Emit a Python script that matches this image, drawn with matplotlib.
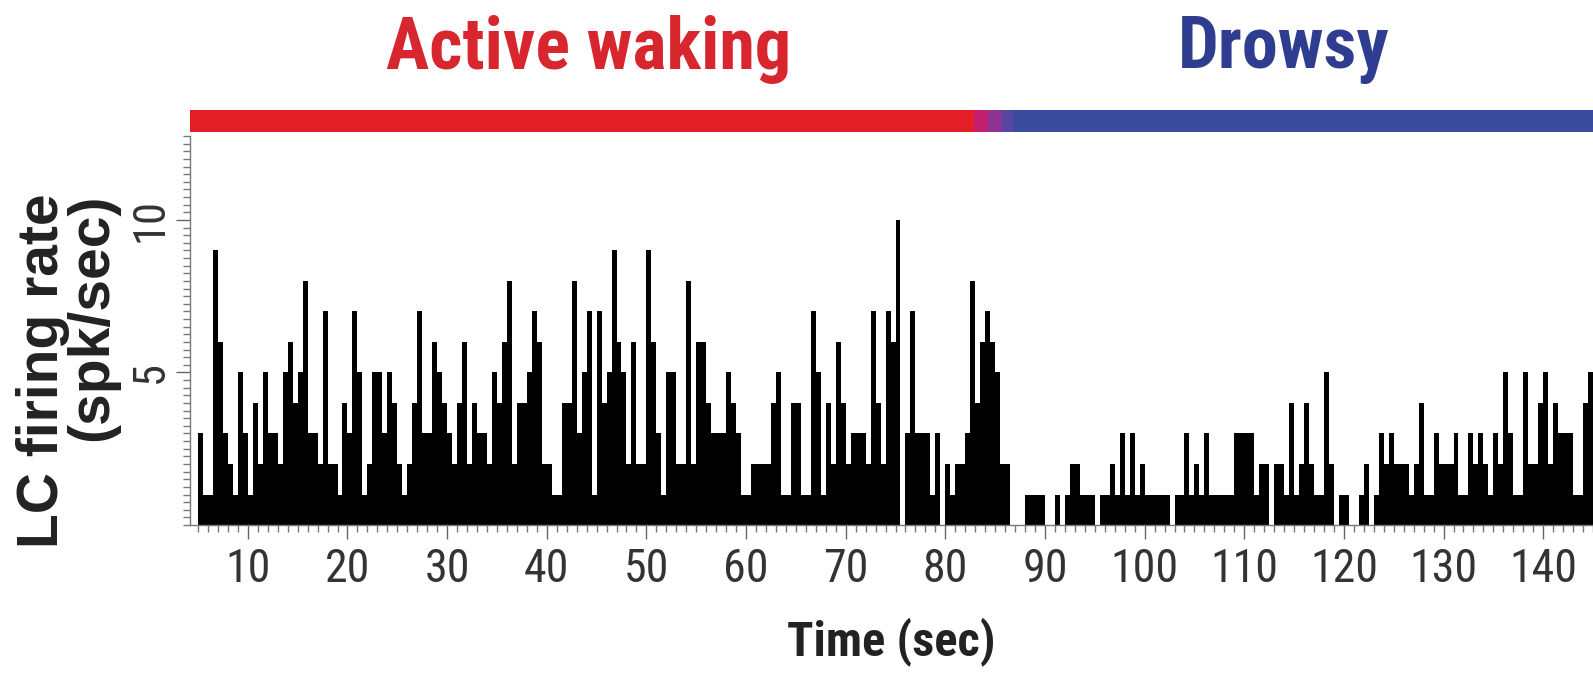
import matplotlib
matplotlib.use('Agg')
import matplotlib.pyplot as plt
from matplotlib.ticker import MultipleLocator
import numpy as np


# LC firing rate, 0.5 s bins starting at 5.0 s
bin_start = 5.0
bin_width = 0.5
rate = [
    3, 1, 1, 9, 6, 3, 2, 1, 5, 3,
    1, 4, 2, 5, 3, 3, 2, 5, 6, 4, 5, 8, 3, 3, 2, 7, 2, 2, 1, 4,
    3, 7, 5, 1, 2, 5, 5, 3, 5, 4, 2, 1, 2, 4, 7, 3, 3, 6, 5, 4,
    3, 2, 4, 6, 2, 4, 3, 3, 2, 5, 4, 6, 8, 2, 4, 4, 5, 7, 6, 2,
    2, 1, 1, 4, 4, 8, 3, 5, 7, 1, 7, 4, 5, 9, 6, 5, 2, 6, 2, 2,
    9, 6, 3, 1, 5, 5, 2, 2, 8, 2, 6, 6, 4, 3, 3, 3, 5, 4, 3, 1,
    1, 2, 2, 2, 2, 4, 5, 1, 1, 4, 4, 1, 1, 7, 5, 1, 4, 2, 6, 4,
    2, 3, 3, 3, 2, 7, 4, 2, 7, 6, 10, 0, 3, 7, 3, 3, 3, 1, 3, 0,
    2, 1, 2, 2, 3, 8, 4, 6, 7, 6, 5, 2, 2, 0, 0, 0, 1, 1, 1, 1,
    0, 0, 1, 0, 1, 2, 2, 1, 1, 1, 0, 1, 1, 2, 1, 3, 1, 3, 1, 2,
    1, 1, 1, 1, 1, 0, 1, 1, 3, 1, 2, 1, 3, 1, 1, 1, 1, 1, 3, 3,
    3, 3, 1, 2, 2, 0, 2, 2, 1, 4, 1, 2, 4, 2, 1, 1, 5, 2, 0, 1,
    1, 0, 0, 1, 2, 0, 1, 3, 2, 3, 2, 2, 2, 1, 2, 4, 1, 1, 3, 2,
    2, 2, 3, 1, 1, 3, 2, 3, 2, 1, 3, 2, 5, 3, 1, 1, 5, 2, 2, 4,
    5, 2, 4, 3, 3, 3, 1, 1, 4, 5,
]

# behavioural state bar
state_start = [4.2, 82.9, 84.3, 85.7, 86.8]
state_end = [82.9, 84.3, 85.7, 86.8, 145.0]
state_color = ['#e41e26', '#c11f6e', '#8d3393', '#5a45a0', '#3a4c9e']

state_names = ['Active waking', 'Drowsy']
state_name_x = [44.2, 114.0]
state_name_color = ['#d8262f', '#2f3d90']

xticks = np.arange(10, 141, 10)
yticks = [5, 10]

# condensed face for the labels, first one that is installed wins
narrow = ['Liberation Sans Narrow', 'Arial Narrow', 'Roboto Condensed',
          'Archivo Narrow', 'PT Sans Narrow', 'IBM Plex Sans Condensed',
          'Liberation Sans']
wide = ['Liberation Sans', 'DejaVu Sans']

fig = plt.figure(figsize=(15.93, 6.77), dpi=100)
ax = fig.add_axes([0.1193, 0.2245, 0.8807, 0.5746])

t = bin_start + bin_width * np.arange(len(rate))
ax.bar(t, rate, width=bin_width, align='edge', color='black', edgecolor='none')

ax.set_xlim(4.2, 145.0)
ax.set_ylim(0, 12.75)

for s in ['top', 'right']:
    ax.spines[s].set_visible(False)
for s in ['left', 'bottom']:
    ax.spines[s].set_color('#777777')
    ax.spines[s].set_linewidth(1.0)

ax.set_xticks(xticks)
ax.xaxis.set_minor_locator(MultipleLocator(1))
ax.set_yticks(yticks)
ax.yaxis.set_minor_locator(MultipleLocator(0.25))
ax.tick_params(axis='both', which='major', direction='out', length=10, width=1,
               color='#666666', labelcolor='#333333', pad=6)
ax.tick_params(axis='y', which='major', pad=3)
ax.tick_params(axis='both', which='minor', direction='out', length=5, width=1,
               color='#777777')
for lab in ax.get_xticklabels():
    lab.set_fontfamily(narrow)
    lab.set_fontsize(33)
for lab in ax.get_yticklabels():
    lab.set_fontfamily(narrow)
    lab.set_fontsize(32)
    lab.set_rotation(90)
    lab.set_va('center')

ax.set_xlabel('Time (sec)', fontsize=35, fontweight='bold', family=narrow,
              color='#222222', labelpad=19)

fig.text(0.0425, 0.452, 'LC firing rate\n(spk/sec)', rotation=90, ha='center',
         va='center', multialignment='right', fontsize=41, fontweight='bold',
         family=wide, color='#222222', linespacing=0.88)

# state bar above the histogram
sax = fig.add_axes([0.1193, 0.805, 0.8807, 0.0325], sharex=ax)
for a, b, c in zip(state_start, state_end, state_color):
    sax.axvspan(a, b, color=c, lw=0)
sax.set_ylim(0, 1)
sax.axis('off')

for name, x, c in zip(state_names, state_name_x, state_name_color):
    fig.text(ax.transData.transform((x, 0))[0] / fig.bbox.width, 0.927, name,
             ha='center', va='center', fontsize=52, fontweight='bold',
             family=narrow, color=c)

fig.savefig('out.png', dpi=100)
